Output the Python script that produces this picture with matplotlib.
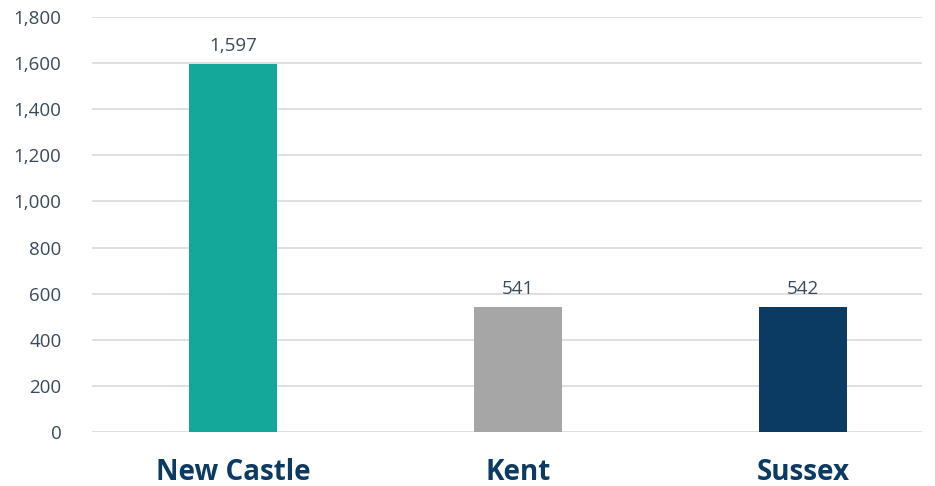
import matplotlib.pyplot as plt

counties = ["New Castle", "Kent", "Sussex"]
counts = [1597, 541, 542]
bar_colors = ["#13A89A", "#A6A6A6", "#0B3A63"]
yticks = list(range(0, 1801, 200))

plt.rcParams['font.family'] = ['Open Sans', 'DejaVu Sans']

fig = plt.figure(figsize=(9.35, 4.86), dpi=100)
ax = fig.add_axes([92/935, 1-432/486, 830/935, 415/486])

x = list(range(len(counties)))
ax.bar(x, counts, width=0.31, color=bar_colors, zorder=3)
for xi, v in zip(x, counts):
    ax.text(xi, v + 40, f"{v:,}", ha="center", va="bottom", fontsize=13.5, color="#3A4A5C")

ax.set_xlim(-0.495, 2.418)
ax.set_ylim(0, 1800)
ax.set_yticks(yticks)
ax.set_yticklabels([f"{t:,}" for t in yticks], fontsize=13.5, color="#3A4A5C")
ax.set_xticks(x)
ax.set_xticklabels(counties, fontsize=20, fontweight="bold", color="#0B3A63")
ax.grid(axis="y", color="#D9D9D9", linewidth=1.2, zorder=0)
for s in ax.spines.values():
    s.set_visible(False)
ax.tick_params(axis="both", length=0)
ax.tick_params(axis="y", pad=22)
ax.tick_params(axis="x", pad=19)

fig.savefig("out.png", dpi=100)
